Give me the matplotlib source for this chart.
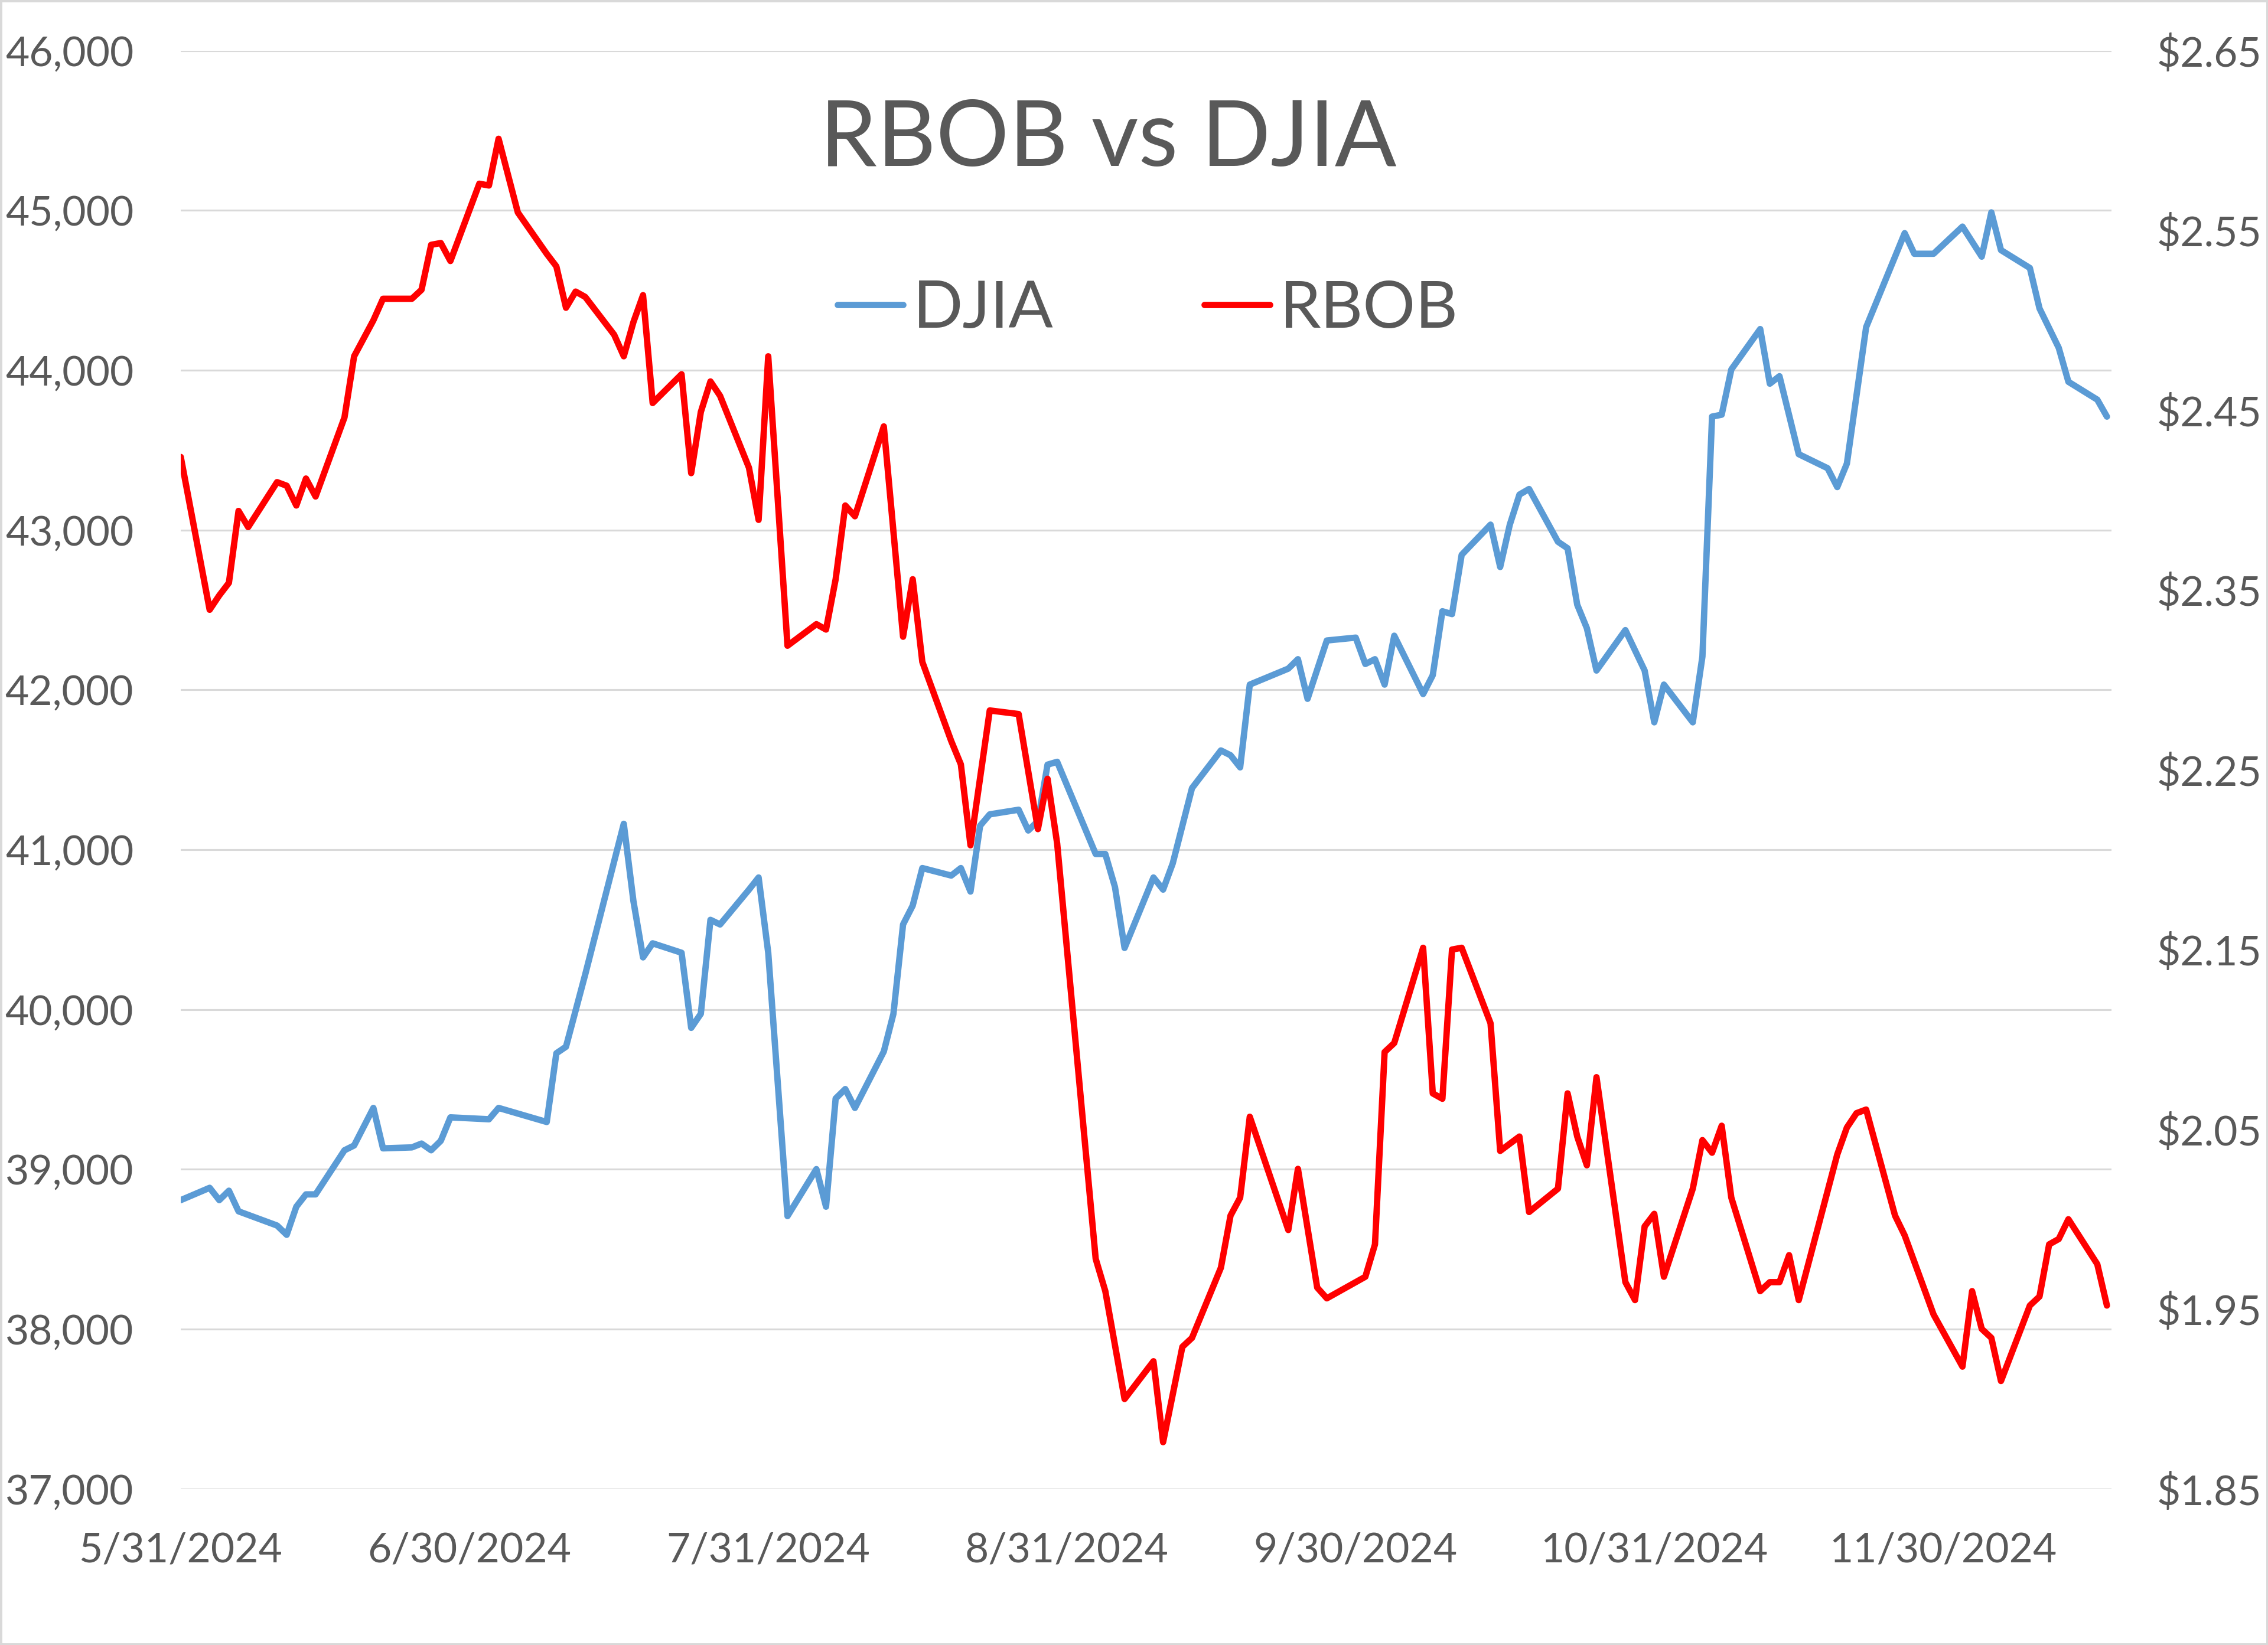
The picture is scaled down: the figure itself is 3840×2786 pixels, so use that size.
# RBOB gasoline futures vs Dow Jones Industrial Average, Jun - Dec 2024
# Excel-style dual axis line chart

import matplotlib.pyplot as plt
import pandas as pd
from matplotlib.patches import Rectangle

djia_dates = ['5/31', '6/3', '6/4', '6/5', '6/6', '6/10', '6/11', '6/12', '6/13', '6/14',
              '6/17', '6/18', '6/20', '6/21', '6/24', '6/25', '6/26', '6/27', '6/28',
              '7/2', '7/3', '7/8', '7/9', '7/10', '7/12', '7/16', '7/17', '7/18', '7/19',
              '7/22', '7/23', '7/24', '7/25', '7/26', '7/29', '7/30', '7/31',
              '8/2', '8/5', '8/6', '8/7', '8/8', '8/9', '8/12', '8/13', '8/14', '8/15', '8/16',
              '8/19', '8/20', '8/21', '8/22', '8/23', '8/26', '8/27', '8/28', '8/29', '8/30',
              '9/3', '9/4', '9/5', '9/6', '9/9', '9/10', '9/11', '9/13', '9/16', '9/17', '9/18',
              '9/19', '9/23', '9/24', '9/25', '9/27', '9/30',
              '10/1', '10/2', '10/3', '10/4', '10/7', '10/8', '10/9', '10/10', '10/11',
              '10/14', '10/15', '10/16', '10/17', '10/18', '10/21', '10/22', '10/23', '10/24',
              '10/25', '10/28', '10/30', '10/31',
              '11/1', '11/4', '11/5', '11/6', '11/7', '11/8', '11/11', '11/12', '11/13', '11/15',
              '11/18', '11/19', '11/20', '11/22', '11/26', '11/27', '11/29',
              '12/2', '12/4', '12/5', '12/6', '12/9', '12/10', '12/12', '12/13', '12/16', '12/17']
djia_close = [38807, 38884, 38807, 38866, 38737, 38648, 38590, 38766, 38843, 38843,
              39119, 39149, 39384, 39131, 39137, 39161, 39119, 39178, 39325,
              39313, 39384, 39296, 39726, 39767, 40220, 41162, 40679, 40326, 40414,
              40355, 39885, 39973, 40561, 40532, 40750, 40826, 40355,
              38707, 39001, 38766, 39443, 39502, 39384, 39737, 39973, 40532, 40650, 40885,
              40838, 40885, 40738, 41150, 41221, 41250, 41120, 41179, 41532, 41550,
              40973, 40973, 40767, 40385, 40826, 40750, 40914, 41385, 41621, 41591, 41515,
              42033, 42133, 42192, 41944, 42309, 42327,
              42162, 42192, 42033, 42339, 41974, 42092, 42492, 42474, 42845,
              43034, 42769, 43034, 43222, 43257, 42927, 42886, 42533, 42386,
              42121, 42374, 42121, 41797,
              42033, 41797, 42209, 43710, 43722, 44005, 44258, 43916, 43963, 43475,
              43387, 43269, 43416, 44270, 44858, 44729, 44729,
              44899, 44711, 44988, 44752, 44640, 44387, 44140, 43928, 43816, 43710]

rbob_dates = ['5/31', '6/3', '6/4', '6/5', '6/6', '6/7', '6/10', '6/11', '6/12', '6/13', '6/14',
              '6/17', '6/18', '6/20', '6/21', '6/24', '6/25', '6/26', '6/27', '6/28',
              '7/1', '7/2', '7/3', '7/5', '7/8', '7/9', '7/10', '7/11', '7/12', '7/15', '7/16',
              '7/17', '7/18', '7/19', '7/22', '7/23', '7/24', '7/25', '7/26', '7/29', '7/30', '7/31',
              '8/2', '8/5', '8/6', '8/7', '8/8', '8/9', '8/12', '8/14', '8/15', '8/16',
              '8/19', '8/20', '8/21', '8/23', '8/26', '8/28', '8/29', '8/30',
              '9/3', '9/4', '9/6', '9/9', '9/10', '9/12', '9/13', '9/16', '9/17', '9/18', '9/19',
              '9/23', '9/24', '9/26', '9/27',
              '10/1', '10/2', '10/3', '10/4', '10/7', '10/8', '10/9', '10/10', '10/11',
              '10/14', '10/15', '10/17', '10/18', '10/21', '10/22', '10/23', '10/24', '10/25',
              '10/28', '10/29', '10/30', '10/31',
              '11/1', '11/4', '11/5', '11/6', '11/7', '11/8', '11/11', '11/12', '11/13', '11/14',
              '11/15', '11/19', '11/20', '11/21', '11/22', '11/25', '11/26', '11/29',
              '12/2', '12/3', '12/4', '12/5', '12/6', '12/9', '12/10', '12/11', '12/12', '12/13',
              '12/16', '12/17']
rbob_price = [2.424, 2.339, 2.347, 2.354, 2.394, 2.385, 2.410, 2.408, 2.397, 2.412, 2.402,
              2.446, 2.480, 2.500, 2.512, 2.512, 2.517, 2.542, 2.543, 2.533,
              2.576, 2.575, 2.601, 2.560, 2.537, 2.530, 2.507, 2.516, 2.513, 2.492, 2.480,
              2.499, 2.514, 2.454, 2.470, 2.415, 2.449, 2.466, 2.458, 2.418, 2.389, 2.480,
              2.319, 2.331, 2.328, 2.356, 2.397, 2.391, 2.441, 2.324, 2.356, 2.310,
              2.266, 2.253, 2.208, 2.283, 2.281, 2.217, 2.245, 2.209,
              1.978, 1.960, 1.900, 1.921, 1.876, 1.929, 1.934, 1.973, 2.002, 2.012, 2.057,
              1.994, 2.028, 1.962, 1.956,
              1.968, 1.986, 2.093, 2.098, 2.151, 2.070, 2.067, 2.150, 2.151,
              2.109, 2.038, 2.046, 2.004, 2.017, 2.070, 2.046, 2.030, 2.079,
              1.965, 1.955, 1.996, 2.003,
              1.968, 2.017, 2.044, 2.037, 2.052, 2.012, 1.960, 1.965, 1.965, 1.980,
              1.955, 2.036, 2.051, 2.059, 2.061, 2.002, 1.991, 1.947,
              1.918, 1.960, 1.939, 1.934, 1.910, 1.952, 1.957, 1.986, 1.989, 2.000,
              1.975, 1.952]

x_tick_labels = ['5/31/2024', '6/30/2024', '7/31/2024', '8/31/2024',
                 '9/30/2024', '10/31/2024', '11/30/2024']
djia_ticks = [37000, 38000, 39000, 40000, 41000, 42000, 43000, 44000, 45000, 46000]
rbob_ticks = [1.85, 1.95, 2.05, 2.15, 2.25, 2.35, 2.45, 2.55, 2.65]

plt.rcParams['font.family'] = ['Lato', 'DejaVu Sans']
grey = '#595959'
grid_grey = '#D9D9D9'

djia_x = pd.to_datetime([d + '/2024' for d in djia_dates], format='%m/%d/%Y')
rbob_x = pd.to_datetime([d + '/2024' for d in rbob_dates], format='%m/%d/%Y')

fig = plt.figure(figsize=(15.36, 11.144), dpi=250)
ax = fig.add_axes([0.0797, 0.0949, 0.8514, 0.8743])
ax2 = ax.twinx()

ax.plot(djia_x, djia_close, color='#5B9BD5', lw=3.1, label='DJIA',
        solid_joinstyle='round', solid_capstyle='round')
ax2.plot(rbob_x, rbob_price, color='#FF0000', lw=3.1, label='RBOB',
         solid_joinstyle='round', solid_capstyle='round')

ax.set_xlim(pd.Timestamp('2024-05-31'), pd.Timestamp('2024-12-17 12:00'))
ax.set_xticks(pd.to_datetime(x_tick_labels, format='%m/%d/%Y'))
ax.set_xticklabels(x_tick_labels)

ax.set_ylim(37000, 46000)
ax.set_yticks(djia_ticks)
ax.set_yticklabels([f'{v:,}' for v in djia_ticks])
ax.grid(axis='y', color=grid_grey, lw=0.9)
ax.set_axisbelow(True)

ax2.set_ylim(1.85, 2.65)
ax2.set_yticks(rbob_ticks)
ax2.set_yticklabels([f'${v:.2f}' for v in rbob_ticks])

for a in (ax, ax2):
    for s in a.spines.values():
        s.set_visible(False)
ax.tick_params(axis='y', length=0, labelsize=20, labelcolor=grey, pad=23)
ax.tick_params(axis='x', length=0, labelsize=20, labelcolor=grey, pad=21)
ax2.tick_params(axis='y', length=0, labelsize=20, labelcolor=grey, pad=22)

fig.text(0.4885, 0.899, 'RBOB vs DJIA', ha='center', va='baseline', fontsize=44.5, color=grey)

h1, l1 = ax.get_legend_handles_labels()
h2, l2 = ax2.get_legend_handles_labels()
fig.legend(h1 + h2, l1 + l2, loc='center', bbox_to_anchor=(0.506, 0.812), ncol=2,
           frameon=False, fontsize=32, labelcolor=grey, handlelength=1.0,
           handletextpad=0.15, columnspacing=2.3)

fig.patches.append(Rectangle((0, 0), 1, 1, transform=fig.transFigure, fill=False,
                             edgecolor=grid_grey, lw=2))

fig.savefig('out.png', dpi=250)
